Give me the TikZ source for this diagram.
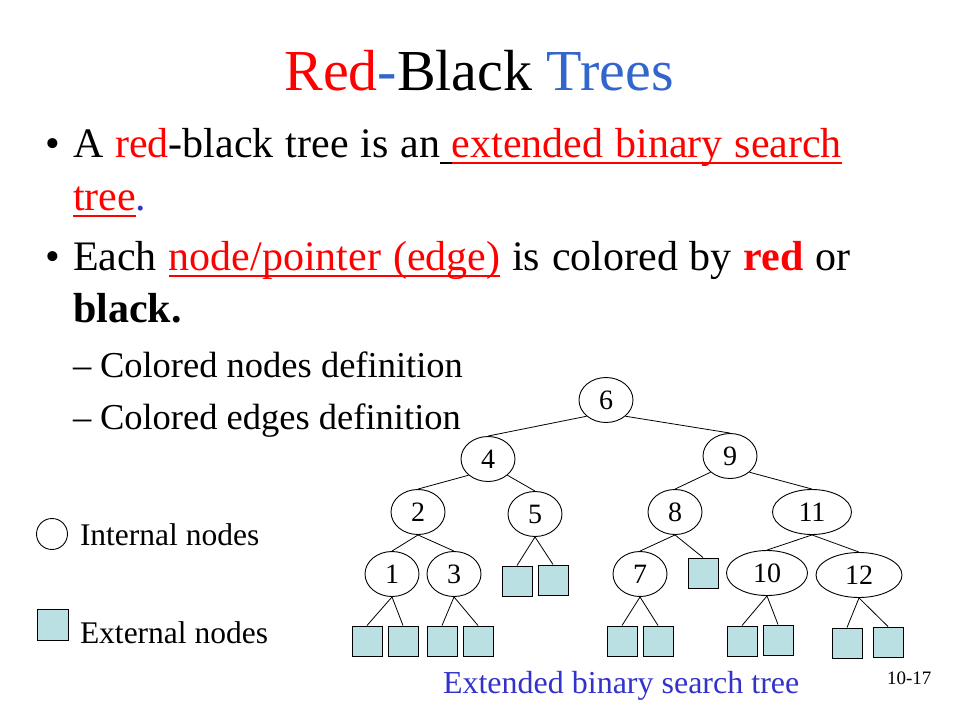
\documentclass[tikz,border=0pt]{standalone}
\usepackage{fontspec}
\setmainfont{Liberation Serif}
\usetikzlibrary{shapes.geometric}
\definecolor{extfill}{RGB}{187,224,227}
\definecolor{titleblue}{RGB}{51,102,204}
\definecolor{capblue}{RGB}{51,51,204}
\definecolor{slidered}{RGB}{255,0,0}
\newcommand{\fsz}[1]{\fontsize{#1}{#1}\selectfont}
\newcommand{\bodyfont}{\fsz{42}\spaceskip=11.9pt\relax}
\begin{document}
\begin{tikzpicture}[x=1pt,y=-1pt,
  inode/.style={ellipse, draw, fill=white, line width=0.9pt, minimum width=54pt, minimum height=45pt, inner sep=0pt, font=\fsz{28}},
  enode/.style={rectangle, draw, fill=extfill, line width=1pt, minimum size=30pt, inner sep=0pt},
  txt/.style={anchor=base west, inner sep=0pt, outer sep=0pt},
  uline/.style={line width=2pt},
  link/.style={line width=0.8pt}]
\fill[white] (0,0) rectangle (960,720);
\useasboundingbox (0,0) rectangle (960,720);
% title and bullets
\node[txt, font=\fsz{58}, anchor=base] (title) at (479,90) {\textcolor{slidered}{Red}\textcolor{titleblue}{-}Black \textcolor{titleblue}{Trees}};
\node[txt, font=\bodyfont] (b1) at (45,157) {\textbullet};
\node[txt, font=\bodyfont] (l1a) at (73,157) {A \textcolor{slidered}{red}-black tree is an};
\node[txt, font=\bodyfont, text=slidered] (l1b) at ([xshift=11.9pt]l1a.base east) {extended binary search};
\draw[uline, slidered] ([yshift=-6pt]l1a.base east) -- ([yshift=-6pt]l1b.base east);
\draw[uline] ([yshift=-6pt]l1a.base east) -- ([yshift=-6pt]l1b.base west);
\node[txt, font=\bodyfont, text=slidered] (l2a) at (73,210) {tree};
\node[txt, font=\bodyfont, text=capblue] (l2b) at (l2a.base east) {.};
\draw[uline, slidered] ([yshift=-6pt]l2a.base west) -- ([yshift=-6pt]l2a.base east);
\node[txt, font=\bodyfont] (b2) at (45,270) {\textbullet};
\node[txt, font=\bodyfont] (l3a) at (73,270) {Each};
\node[txt, font=\bodyfont, text=slidered] (l3b) at ([xshift=11.9pt]l3a.base east) {node/pointer (edge)};
\node[txt, font=\bodyfont] (l3c) at ([xshift=11.9pt]l3b.base east) {is colored by \textcolor{slidered}{\textbf{red}} or};
\draw[uline, slidered] ([yshift=-6pt]l3b.base west) -- ([yshift=-6pt]l3b.base east);
\node[txt, font=\bodyfont\bfseries] (l4) at (73,322) {black.};
\node[txt, font=\fsz{36.5}] (d1) at (73,377) {\textendash};
\node[txt, font=\fsz{36.5}] (l5) at (100,377) {Colored nodes definition};
\node[txt, font=\fsz{36.5}] (d2) at (73,429) {\textendash};
\node[txt, font=\fsz{36.5}] (l6) at (100,429) {Colored edges definition};
% tree
\node[inode] (n6) at (606,400) {6};
\node[inode] (n4) at (488,459) {4};
\node[inode] (n9) at (730,456) {9};
\draw[link] (n6.south west) -- (n4.north);
\draw[link] (n6.south east) -- (n9.north);
\node[inode] (n2) at (418,512) {2};
\node[inode] (n5) at (535,514) {5};
\draw[link] (n4.south west) -- (n2.north);
\draw[link] (n4.south east) -- (n5.north);
\node[inode] (n8) at (675,512) {8};
\node[inode, minimum width=79pt] (n11) at (812,512) {11};
\draw[link] (n9.south west) -- (n8.north);
\draw[link] (n9.south east) -- (n11.north);
\node[inode] (n1) at (392,574) {1};
\node[inode] (n3) at (454,574) {3};
\draw[link] (n2.south) -- (n1.north);
\draw[link] (n2.south) -- (n3.north);
\node[enode] (e5a) at (517,581) {};
\node[enode] (e5b) at (553,580) {};
\draw[link] (n5.south) -- (e5a.north);
\draw[link] (n5.south) -- (e5b.north);
\node[inode] (n7) at (640,574) {7};
\node[enode] (e8) at (703,573) {};
\draw[link] (n8.south) -- (n7.north);
\draw[link] (n8.south) -- (e8.north);
\node[inode, minimum width=81pt] (n10) at (767,573) {10};
\node[inode, minimum width=86pt] (n12) at (859,575) {12};
\draw[link] (n11.south) -- (n10.north);
\draw[link] (n11.south) -- (n12.north);
\node[enode] (e1a) at (367,641) {};
\node[enode] (e1b) at (403,641) {};
\draw[link] (n1.south) -- (e1a.north);
\draw[link] (n1.south) -- (e1b.north);
\node[enode] (e3a) at (442,641) {};
\node[enode] (e3b) at (478,641) {};
\draw[link] (n3.south) -- (e3a.north);
\draw[link] (n3.south) -- (e3b.north);
\node[enode] (e7a) at (622,641) {};
\node[enode] (e7b) at (658,641) {};
\draw[link] (n7.south) -- (e7a.north);
\draw[link] (n7.south) -- (e7b.north);
\node[enode] (e10a) at (742,641) {};
\node[enode] (e10b) at (778,640) {};
\draw[link] (n10.south) -- (e10a.north);
\draw[link] (n10.south) -- (e10b.north);
\node[enode] (e12a) at (847,643) {};
\node[enode] (e12b) at (888,642) {};
\draw[link] (n12.south) -- (e12a.north);
\draw[link] (n12.south) -- (e12b.north);
% legend and caption
\node[circle, draw, line width=0.9pt, minimum size=31pt, inner sep=0pt] (legi) at (52,534) {};
\node[txt, font=\fsz{31.5}] (legit) at (80,545) {Internal nodes};
\node[enode, minimum size=31pt] (lege) at (52.5,625) {};
\node[txt, font=\fsz{31.5}] (leget) at (80,643) {External nodes};
\node[txt, font=\fsz{32}, text=capblue] (cap) at (443,693) {Extended binary search tree};
\node[txt, font=\fsz{19}] (page) at (887,684) {10-17};
\end{tikzpicture}
\end{document}
